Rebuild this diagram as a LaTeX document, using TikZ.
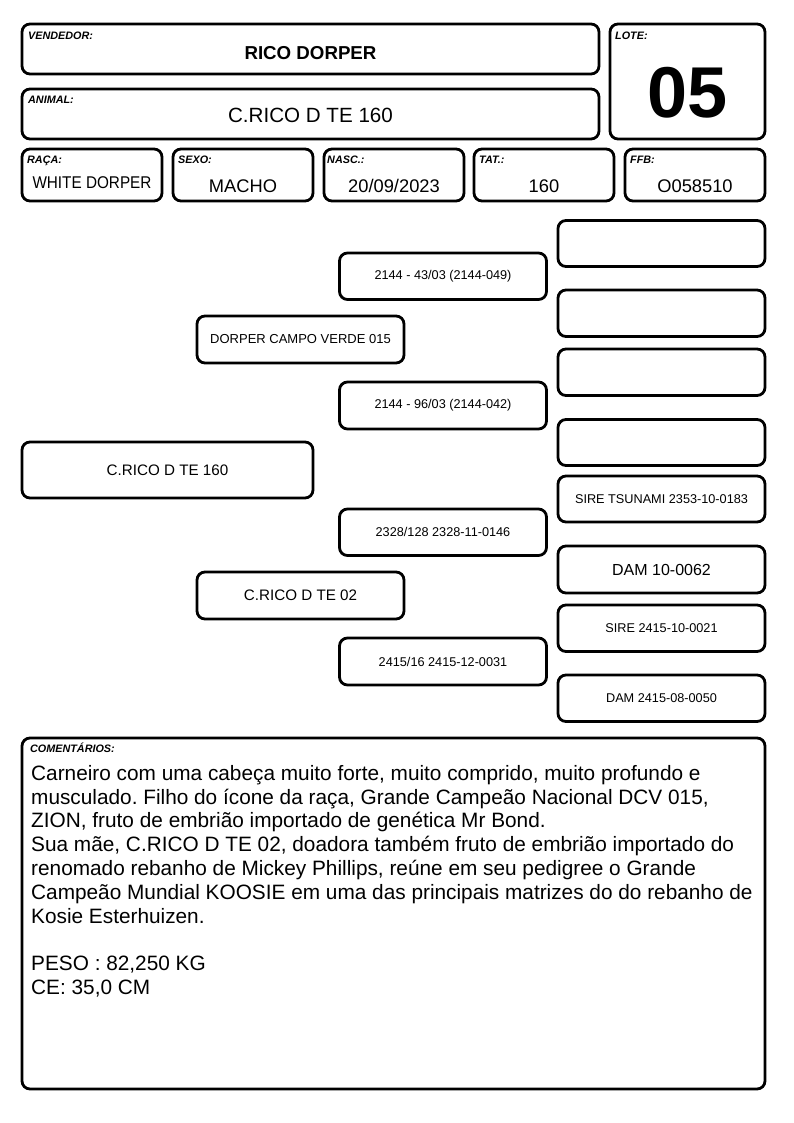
\documentclass[tikz,border=0pt]{standalone}
\usepackage{fontspec}
\setmainfont{Liberation Sans}
\frenchspacing
\tikzset{
  bx/.style={draw=black, line width=2.8pt, rounded corners=8pt, inner sep=0pt, outer sep=0pt, anchor=north west},
  lbl/.style={font=\fontsize{10.8}{12}\selectfont\bfseries\itshape, anchor=base west, inner sep=0pt},
  val/.style={font=\fontsize{18.3}{20}\selectfont, anchor=base, inner sep=0pt},
}
\newcommand{\mybox}[7]{\node[bx, minimum width={#4-#2}, minimum height={#5-#3}, font=\fontsize{#6}{#6}\selectfont] (#1) at (#2,#3) {#7};}
\begin{document}
\begin{tikzpicture}[x=1pt,y=-1pt]
\useasboundingbox (0,0) rectangle (794,1123);
% header
\mybox{vend}{22}{24}{599}{74}{12}{}
\mybox{anim}{22}{89}{599}{139}{12}{}
\mybox{lote}{610}{24}{765}{139}{12}{}
\mybox{raca}{22}{149}{162}{201}{12}{}
\mybox{sexo}{173}{149}{313}{201}{12}{}
\mybox{nasc}{324}{149}{464}{201}{12}{}
\mybox{tat}{474}{149}{614}{201}{12}{}
\mybox{ffb}{625}{149}{765}{201}{12}{}
\node[lbl] (vendl) at ([xshift=6pt,yshift=-15.5pt]vend.north west) {VENDEDOR:};
\node[lbl] (animl) at ([xshift=6pt,yshift=-14.5pt]anim.north west) {ANIMAL:};
\node[lbl] (lotel) at ([xshift=5pt,yshift=-15.5pt]lote.north west) {LOTE:};
\node[lbl] (racal) at ([xshift=5pt,yshift=-14.5pt]raca.north west) {RAÇA:};
\node[lbl] (sexol) at ([xshift=5pt,yshift=-14.5pt]sexo.north west) {SEXO:};
\node[lbl] (nascl) at ([xshift=3pt,yshift=-14.5pt]nasc.north west) {NASC.:};
\node[lbl] (tatl) at ([xshift=5pt,yshift=-14.5pt]tat.north west) {TAT.:};
\node[lbl] (ffbl) at ([xshift=5pt,yshift=-14.5pt]ffb.north west) {FFB:};
\node[val, font=\fontsize{18.7}{20}\selectfont\bfseries] (vendv) at ([yshift=-36pt]vend.north) {RICO DORPER};
\node[val, font=\fontsize{20.6}{22}\selectfont] (animv) at ([yshift=-33.7pt]anim.north) {C.RICO D TE 160};
\node[val, font=\fontsize{72}{74}\selectfont\bfseries] (lotev) at ([yshift=-94pt]lote.north) {05};
\node[val, font=\fontsize{17}{20}\selectfont] (racav) at ([yshift=-39.3pt]raca.north) {\scalebox{0.9}[1]{WHITE DORPER}};
\node[val] (sexov) at ([yshift=-43.7pt]sexo.north) {MACHO};
\node[val] (nascv) at ([yshift=-43.7pt]nasc.north) {20/09/2023};
\node[val] (tatv) at ([yshift=-43.7pt]tat.north) {160};
\node[val] (ffbv) at ([yshift=-43.7pt]ffb.north) {O058510};
% pedigree
\mybox{animal}{22}{442}{313}{498}{15.2}{C.RICO D TE 160}
\mybox{sire}{197}{316}{404}{363}{13}{DORPER CAMPO VERDE 015}
\mybox{dam}{197}{572}{404}{619}{15.2}{C.RICO D TE 02}
\mybox{ss}{339.5}{253}{546.5}{299.5}{12.7}{2144 - 43/03 (2144-049)}
\mybox{sd}{339.5}{382}{546.5}{429}{12.7}{2144 - 96/03 (2144-042)}
\mybox{ds}{339.5}{509}{546.5}{555.5}{12.7}{2328/128 2328-11-0146}
\mybox{dd}{339.5}{638}{546.5}{685}{12.7}{2415/16 2415-12-0031}
\mybox{sss}{558}{220.5}{765}{266.5}{12.7}{}
\mybox{ssd}{558}{290}{765}{336.5}{12.7}{}
\mybox{sds}{558}{349}{765}{395.5}{12.7}{}
\mybox{sdd}{558}{419.5}{765}{465.5}{12.7}{}
\mybox{dss}{558}{476}{765}{522}{12.7}{SIRE TSUNAMI 2353-10-0183}
\mybox{dsd}{558}{546}{765}{593}{16}{DAM 10-0062}
\mybox{dds}{558}{605}{765}{651.5}{12.7}{SIRE 2415-10-0021}
\mybox{ddd}{558}{675}{765}{721.5}{12.7}{DAM 2415-08-0050}
% comments
\mybox{com}{22}{738}{765}{1089}{12}{}
\node[lbl] (coml) at ([xshift=8pt,yshift=-14.7pt]com.north west) {COMENTÁRIOS:};
\node[anchor=base west, inner sep=0pt, align=left, font=\fontsize{20.8}{23.8}\selectfont] (comt) at (31,994.5) {Carneiro com uma cabeça muito forte, muito comprido, muito profundo e\\
musculado. Filho do ícone da raça, Grande Campeão Nacional DCV 015,\\
ZION, fruto de embrião importado de genética Mr Bond.\\
Sua mãe, C.RICO D TE 02, doadora também fruto de embrião importado do\\
renomado rebanho de Mickey Phillips, reúne em seu pedigree o Grande\\
Campeão Mundial KOOSIE em uma das principais matrizes do do rebanho de\\
Kosie Esterhuizen.\\[23.8pt]
PESO : 82,250 KG\\
CE: 35,0 CM};
\end{tikzpicture}
\end{document}
